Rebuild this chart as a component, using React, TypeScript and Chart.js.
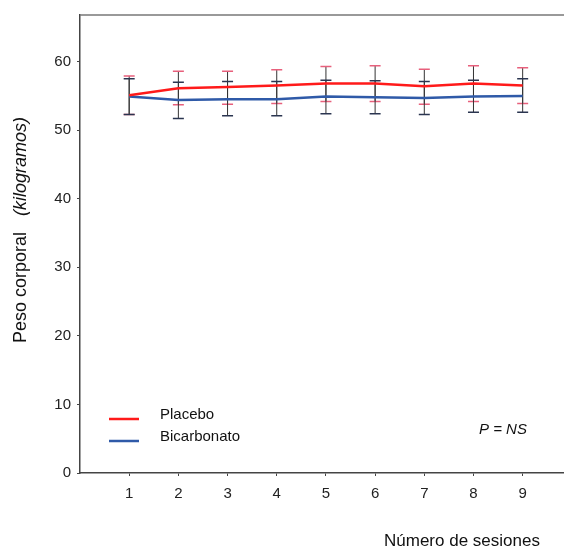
import React, { useEffect, useRef } from "react";
import { Chart, registerables } from "chart.js";

Chart.register(...registerables);

const sessions = [1, 2, 3, 4, 5, 6, 7, 8, 9];
const placeboMean = [55.1, 56.1, 56.3, 56.5, 56.8, 56.8, 56.4, 56.8, 56.5];
const placeboUpper = [57.9, 58.6, 58.6, 58.8, 59.3, 59.4, 58.9, 59.4, 59.1];
const placeboLower = [52.3, 53.7, 53.8, 53.9, 54.2, 54.2, 53.8, 54.2, 53.9];
const bicarbMean = [54.9, 54.4, 54.5, 54.5, 54.9, 54.8, 54.7, 54.9, 55.0];
const bicarbUpper = [57.5, 57.0, 57.1, 57.1, 57.3, 57.2, 57.1, 57.3, 57.5];
const bicarbLower = [52.3, 51.7, 52.1, 52.1, 52.4, 52.4, 52.3, 52.6, 52.6];
const yTicks = [0, 10, 20, 30, 40, 50, 60];

const FONT = "'Liberation Sans', Arial, sans-serif";

export default function App() {
  const ref = useRef<HTMLCanvasElement>(null);
  useEffect(() => {
    document.body.style.margin = "0";
    const canvas = ref.current!;
    const overlay = {
      id: "overlay",
      beforeDatasetsDraw(chart: any) {
        const { ctx, scales } = chart;
        const xs = scales.x;
        const ys = scales.y;
        const drawBars = (upper: number[], lower: number[], capColor: string) => {
          ctx.save();
          sessions.forEach((s, i) => {
            const x = xs.getPixelForValue(s);
            const yt = ys.getPixelForValue(upper[i]);
            const yb = ys.getPixelForValue(lower[i]);
            ctx.strokeStyle = "#333333";
            ctx.lineWidth = 1;
            ctx.beginPath();
            ctx.moveTo(x, yt);
            ctx.lineTo(x, yb);
            ctx.stroke();
            ctx.strokeStyle = capColor;
            ctx.lineWidth = 1.5;
            ctx.beginPath();
            ctx.moveTo(x - 5.5, yt);
            ctx.lineTo(x + 5.5, yt);
            ctx.moveTo(x - 5.5, yb);
            ctx.lineTo(x + 5.5, yb);
            ctx.stroke();
          });
          ctx.restore();
        };
        drawBars(placeboUpper, placeboLower, "#e8607c");
        drawBars(bicarbUpper, bicarbLower, "#2a3550");
      },
      afterDraw(chart: any) {
        const { ctx, chartArea } = chart;
        ctx.save();
        ctx.strokeStyle = "#777777";
        ctx.lineWidth = 1.5;
        ctx.beginPath();
        ctx.moveTo(chartArea.left, chartArea.top);
        ctx.lineTo(564, chartArea.top);
        ctx.stroke();
        // legend
        ctx.lineWidth = 2.5;
        ctx.strokeStyle = "#ff1a1a";
        ctx.beginPath();
        ctx.moveTo(109, 419);
        ctx.lineTo(139, 419);
        ctx.stroke();
        ctx.strokeStyle = "#2f5aa8";
        ctx.beginPath();
        ctx.moveTo(109, 441);
        ctx.lineTo(139, 441);
        ctx.stroke();
        ctx.fillStyle = "#111111";
        ctx.font = `15px ${FONT}`;
        ctx.textBaseline = "middle";
        ctx.textAlign = "left";
        ctx.fillText("Placebo", 160, 415);
        ctx.fillText("Bicarbonato", 160, 437);
        ctx.font = `italic 15px ${FONT}`;
        ctx.fillText("P = NS", 479, 430);
        // x title
        ctx.font = `17px ${FONT}`;
        ctx.fillText("Número de sesiones", 384, 541);
        // y title
        ctx.translate(21, 230);
        ctx.rotate(-Math.PI / 2);
        ctx.textAlign = "left";
        const t1 = "Peso corporal";
        const gap = 16;
        ctx.font = `18px ${FONT}`;
        const w1 = ctx.measureText(t1).width;
        ctx.font = `italic 18px ${FONT}`;
        const w2 = ctx.measureText("(kilogramos)").width;
        const start = -(w1 + gap + w2) / 2;
        ctx.font = `18px ${FONT}`;
        ctx.fillText(t1, start, 0);
        ctx.font = `italic 18px ${FONT}`;
        ctx.fillText("(kilogramos)", start + w1 + gap, 0);
        ctx.restore();
      },
    };
    const chart = new Chart(canvas, {
      type: "line",
      data: {
        datasets: [
          {
            label: "Placebo",
            data: sessions.map((s, i) => ({ x: s, y: placeboMean[i] })),
            borderColor: "#ff1a1a",
            borderWidth: 2.5,
            pointRadius: 0,
            tension: 0,
          },
          {
            label: "Bicarbonato",
            data: sessions.map((s, i) => ({ x: s, y: bicarbMean[i] })),
            borderColor: "#2f5aa8",
            borderWidth: 2.5,
            pointRadius: 0,
            tension: 0,
          },
        ],
      },
      options: {
        animation: false,
        responsive: false,
        layout: { padding: { top: 12, right: 1, left: 0, bottom: 0 } },
        plugins: { legend: { display: false }, tooltip: { enabled: false } },
        scales: {
          x: {
            type: "linear",
            min: 0,
            max: 9.82,
            afterFit: (s: any) => {
              s.height = 77;
            },
            afterBuildTicks: (s: any) => {
              s.ticks = sessions.map((v) => ({ value: v }));
            },
            grid: {
              display: true,
              drawOnChartArea: false,
              drawTicks: true,
              tickLength: 3,
              color: "#444444",
            },
            border: { display: true, color: "#444444", width: 1.5 },
            ticks: {
              color: "#222222",
              font: { size: 15, family: FONT },
              padding: 9,
              autoSkip: false,
              maxRotation: 0,
            },
          },
          y: {
            type: "linear",
            min: 0,
            max: 66.8,
            afterFit: (s: any) => {
              s.width = 80;
            },
            afterBuildTicks: (s: any) => {
              s.ticks = yTicks.map((v) => ({ value: v }));
            },
            grid: {
              display: true,
              drawOnChartArea: false,
              drawTicks: true,
              tickLength: 3,
              color: "#444444",
            },
            border: { display: true, color: "#444444", width: 1.5 },
            ticks: {
              color: "#222222",
              font: { size: 15, family: FONT },
              padding: 6,
            },
          },
        },
      },
      plugins: [overlay],
    });
    return () => chart.destroy();
  }, []);
  return (
    <div style={{ width: 564, height: 550, background: "#fff" }}>
      <canvas ref={ref} width={564} height={550} style={{ display: "block" }} />
    </div>
  );
}
